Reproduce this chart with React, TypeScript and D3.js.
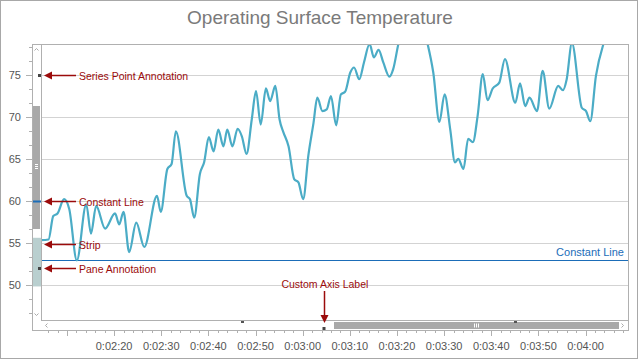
import React from 'react';
import * as d3 from 'd3';

// time in seconds from start of recording, temperature
const seconds = [
  124, 126.1, 127.1, 128, 129.4, 130.5, 132.1, 134.1, 135.1, 136.2, 138.1, 140.2, 141.1, 142,
  143.2, 144.7, 146.4, 149.1, 149.9, 151.3, 152.2, 153.1, 155.4, 156.1, 157, 158.2, 159.1,
  160.1, 161.1, 162.1, 163.2, 164, 165.1, 166.2, 167.1, 168.1, 169.2, 170.1, 171.1, 172.2,
  173.1, 174.2, 175.1, 175.9, 177, 178.2, 179.1, 180.1, 181.2, 182.3, 183.1, 184.2, 185.1,
  186, 187.1, 188.1, 189, 190.1, 190.9, 192, 193, 194.2, 195.1, 196.1, 197.1, 198.4, 199.2,
  200.3, 203.4, 206.5, 207.7, 209, 210.1, 211.3, 212.3, 213, 214.1, 215.1, 216.1, 217.1,
  218.2, 219.2, 220.3, 221.7, 222.9, 225.1, 226.1, 227.2, 228.1, 229.7, 230.9, 232.3, 234.2,
  235.2, 236, 237.1, 239.2, 240.1, 241, 242.2, 243.8, 246.5, 250
];
const temperature = [
  55.3, 55.4, 58.2, 58.5, 60.2, 59, 52.9, 59.6, 56.1, 59.4, 56.7, 58.5, 57.2, 58.7,
  53.9, 57.4, 54.5, 60.6, 58.7, 63.8, 64.4, 68.3, 60.6, 60.2, 58, 63.2, 64.6,
  67.6, 65.9, 68.5, 66.5, 68.5, 66.5, 68.6, 67.7, 65.6, 69.7, 73.1, 69.1, 73.4,
  71.9, 73.7, 69.7, 68.2, 66.5, 62.6, 62.2, 60.2, 65.4, 69.3, 72.3, 70.7, 70.9,
  72.5, 69, 72.7, 73, 75.3, 75.9, 74.5, 76.5, 78.7, 77.1, 78, 76.5, 74.8, 75.7,
  78.7, 83, 78.7, 75.3, 69.4, 72.7, 68.5, 64.6, 65, 63.8, 67.4, 67, 70.1,
  75.1, 72, 73.4, 74.1, 76.9, 71.7, 74, 71.3, 72.3, 70.7, 75.5, 71, 73.7,
  73.2, 74.5, 78.8, 71.1, 70.7, 69.5, 74.9, 78.7, 81.5, 84
];

const yMajorTicks = [50, 55, 60, 65, 70, 75];
const xLabelSeconds = [140, 150, 160, 170, 180, 190, 200, 210, 220, 230, 240];
const xLabels = ['0:02:20', '0:02:30', '0:02:40', '0:02:50', '0:03:00', '0:03:10', '0:03:20', '0:03:30', '0:03:40', '0:03:50', '0:04:00'];

const constantLineValue = 52.9;
const scrollConstantLine = 60;
const stripRange = [49.8, 55.6];
const stripLabelValue = 54.9;
const pointAnnotationValue = 75;
const paneAnnotationValue = 52;
const customAxisLabelTime = 184.5;

const W = 640, H = 360;
const pane = { left: 41, top: 44, right: 628, bottom: 320 };

const font = '"Liberation Sans", Arial, sans-serif';
const red = '#9b0b0b';
const blue = '#1b6db8';

const Arrow = ({ x1, y1, x2, y2 }: { x1: number; y1: number; x2: number; y2: number }) => {
  const a = Math.atan2(y2 - y1, x2 - x1);
  const len = 8, half = 4;
  const bx = x2 - len * Math.cos(a), by = y2 - len * Math.sin(a);
  const p = `${x2},${y2} ${bx - half * Math.sin(a)},${by + half * Math.cos(a)} ${bx + half * Math.sin(a)},${by - half * Math.cos(a)}`;
  return (
    <g>
      <line x1={x1} y1={y1} x2={bx} y2={by} stroke={red} strokeWidth={1.5} />
      <polygon points={p} fill={red} />
    </g>
  );
};

export default function App() {
  const x = d3.scaleLinear().domain([124.5, 249]).range([pane.left, pane.right]);
  const y = d3.scaleLinear().domain([45.8, 78.7]).range([pane.bottom, pane.top]);

  const pts = seconds.map((s, i) => [s, temperature[i]] as [number, number]);
  const path = d3.line<[number, number]>()
    .x(d => x(d[0]))
    .y(d => y(d[1]))
    .curve(d3.curveMonotoneX)(pts) || '';

  const yMinor = d3.range(45 + 5 / 3, 78.7, 5 / 3).filter(v => v > 45.8 && yMajorTicks.every(m => Math.abs(m - v) > 0.01));
  const xMinor = d3.range(126, 249, 2).filter(v => v % 10 !== 0);
  const xMajor = d3.range(130, 249, 10);

  const annY = [
    { text: 'Series Point Annotation', v: pointAnnotationValue },
    { text: 'Constant Line', v: scrollConstantLine },
    { text: 'Strip', v: stripLabelValue },
    { text: 'Pane Annotation', v: paneAnnotationValue },
  ];

  const cx = x(customAxisLabelTime);

  return (
    <div style={{ position: 'fixed', left: 0, top: 0 }}>
      <svg width={W} height={H} style={{ display: 'block', background: '#fff' }}>
        <defs>
          <clipPath id="pane-clip">
            <rect x={pane.left} y={pane.top} width={pane.right - pane.left} height={pane.bottom - pane.top} />
          </clipPath>
        </defs>
        <rect x={0.5} y={0.5} width={637} height={358} fill="none" stroke="#a8a8a8" />
        <text x={320} y={24} textAnchor="middle" fontFamily={font} fontSize={19} fill="#7a7a7a">
          Operating Surface Temperature
        </text>

        {/* grid */}
        {yMajorTicks.map(v => (
          <line key={v} x1={pane.left} x2={pane.right} y1={Math.round(y(v)) + 0.5} y2={Math.round(y(v)) + 0.5} stroke="#d3d3d3" />
        ))}

        {/* constant line */}
        <line x1={pane.left} x2={pane.right} y1={Math.round(y(constantLineValue)) + 0.5} y2={Math.round(y(constantLineValue)) + 0.5} stroke={blue} strokeWidth={1} />
        <text x={pane.right - 4} y={y(constantLineValue) - 4} textAnchor="end" fontFamily={font} fontSize={11} fill={blue}>Constant Line</text>

        {/* series */}
        <path d={path} fill="none" stroke="#4bacc6" strokeWidth={2.2} clipPath="url(#pane-clip)" strokeLinejoin="round" />

        {/* y scrollbar */}
        <rect x={32} y={y(stripRange[1])} width={9} height={y(stripRange[0]) - y(stripRange[1])} fill="#b9cfcf" />
        <rect x={33} y={106} width={7} height={123} fill="#a9a9a9" />
        {[-2, 0, 2].map(d => (
          <line key={d} x1={35} x2={38} y1={166.5 + d} y2={166.5 + d} stroke="#fff" />
        ))}
        <line x1={32} x2={41} y1={Math.round(y(scrollConstantLine)) + 0.5} y2={Math.round(y(scrollConstantLine)) + 0.5} stroke={blue} strokeWidth={2} />
        <path d="M34.5,50.5 L36.5,48.5 L38.5,50.5" fill="none" stroke="#aaa" />
        <path d="M34.5,313.5 L36.5,315.5 L38.5,313.5" fill="none" stroke="#aaa" />

        {/* x scrollbar */}
        <rect x={334} y={322} width={285} height={7} fill="#a9a9a9" />
        {[-2, 0, 2].map(d => (
          <line key={d} x1={476.5 + d} x2={476.5 + d} y1={323.5} y2={327.5} stroke="#fff" />
        ))}
        <path d="M47.5,323.5 L45.5,325.5 L47.5,327.5" fill="none" stroke="#aaa" />
        <path d="M621.5,323.5 L623.5,325.5 L621.5,327.5" fill="none" stroke="#aaa" />
        <rect x={241} y={321} width={3} height={2} fill="#555" />
        <rect x={514} y={321} width={3} height={2} fill="#555" />

        {/* frames */}
        <rect x={32.5} y={44.5} width={pane.right - 32} height={330 - 44} fill="none" stroke="#b0b0b0" />
        <line x1={41.5} x2={41.5} y1={44} y2={320} stroke="#b0b0b0" />
        <line x1={41} x2={pane.right} y1={320.5} y2={320.5} stroke="#b0b0b0" />

        {/* y axis ticks and labels */}
        {yMajorTicks.map(v => (
          <g key={v}>
            <line x1={26} x2={32} y1={Math.round(y(v)) + 0.5} y2={Math.round(y(v)) + 0.5} stroke="#b0b0b0" />
            <text x={21} y={y(v) + 4} textAnchor="end" fontFamily={font} fontSize={11} fill="#555">{v}</text>
          </g>
        ))}
        {yMinor.map(v => (
          <line key={v} x1={29} x2={32} y1={Math.round(y(v)) + 0.5} y2={Math.round(y(v)) + 0.5} stroke="#b0b0b0" />
        ))}

        {/* x axis ticks and labels */}
        {xMajor.map(s => (
          <line key={s} x1={Math.round(x(s)) + 0.5} x2={Math.round(x(s)) + 0.5} y1={330} y2={336} stroke="#b0b0b0" />
        ))}
        {xMinor.map(s => (
          <line key={s} x1={Math.round(x(s)) + 0.5} x2={Math.round(x(s)) + 0.5} y1={330} y2={333} stroke="#b0b0b0" />
        ))}
        {xLabelSeconds.map((s, i) => (
          <text key={s} x={x(s)} y={350} textAnchor="middle" fontFamily={font} fontSize={11} fill="#555">{xLabels[i]}</text>
        ))}

        {/* annotations */}
        <rect x={38} y={Math.round(y(pointAnnotationValue)) - 1} width={3} height={3} fill="#444" />
        <rect x={38} y={Math.round(y(paneAnnotationValue)) - 1} width={3} height={3} fill="#444" />
        {annY.map(a => {
          const yy = Math.round(y(a.v)) + 0.5;
          return (
            <g key={a.text}>
              <Arrow x1={76} y1={yy} x2={44} y2={yy} />
              <text x={79} y={yy + 4} fontFamily={font} fontSize={10.5} fill={red}>{a.text}</text>
            </g>
          );
        })}
        <rect x={Math.round(cx) - 1.5} y={327} width={3} height={3} fill="#444" />
        <Arrow x1={Math.round(cx) + 0.5} y1={291} x2={Math.round(cx) + 0.5} y2={323} />
        <text x={cx + 1} y={288} textAnchor="middle" fontFamily={font} fontSize={10.5} fill={red}>Custom Axis Label</text>
      </svg>
    </div>
  );
}
